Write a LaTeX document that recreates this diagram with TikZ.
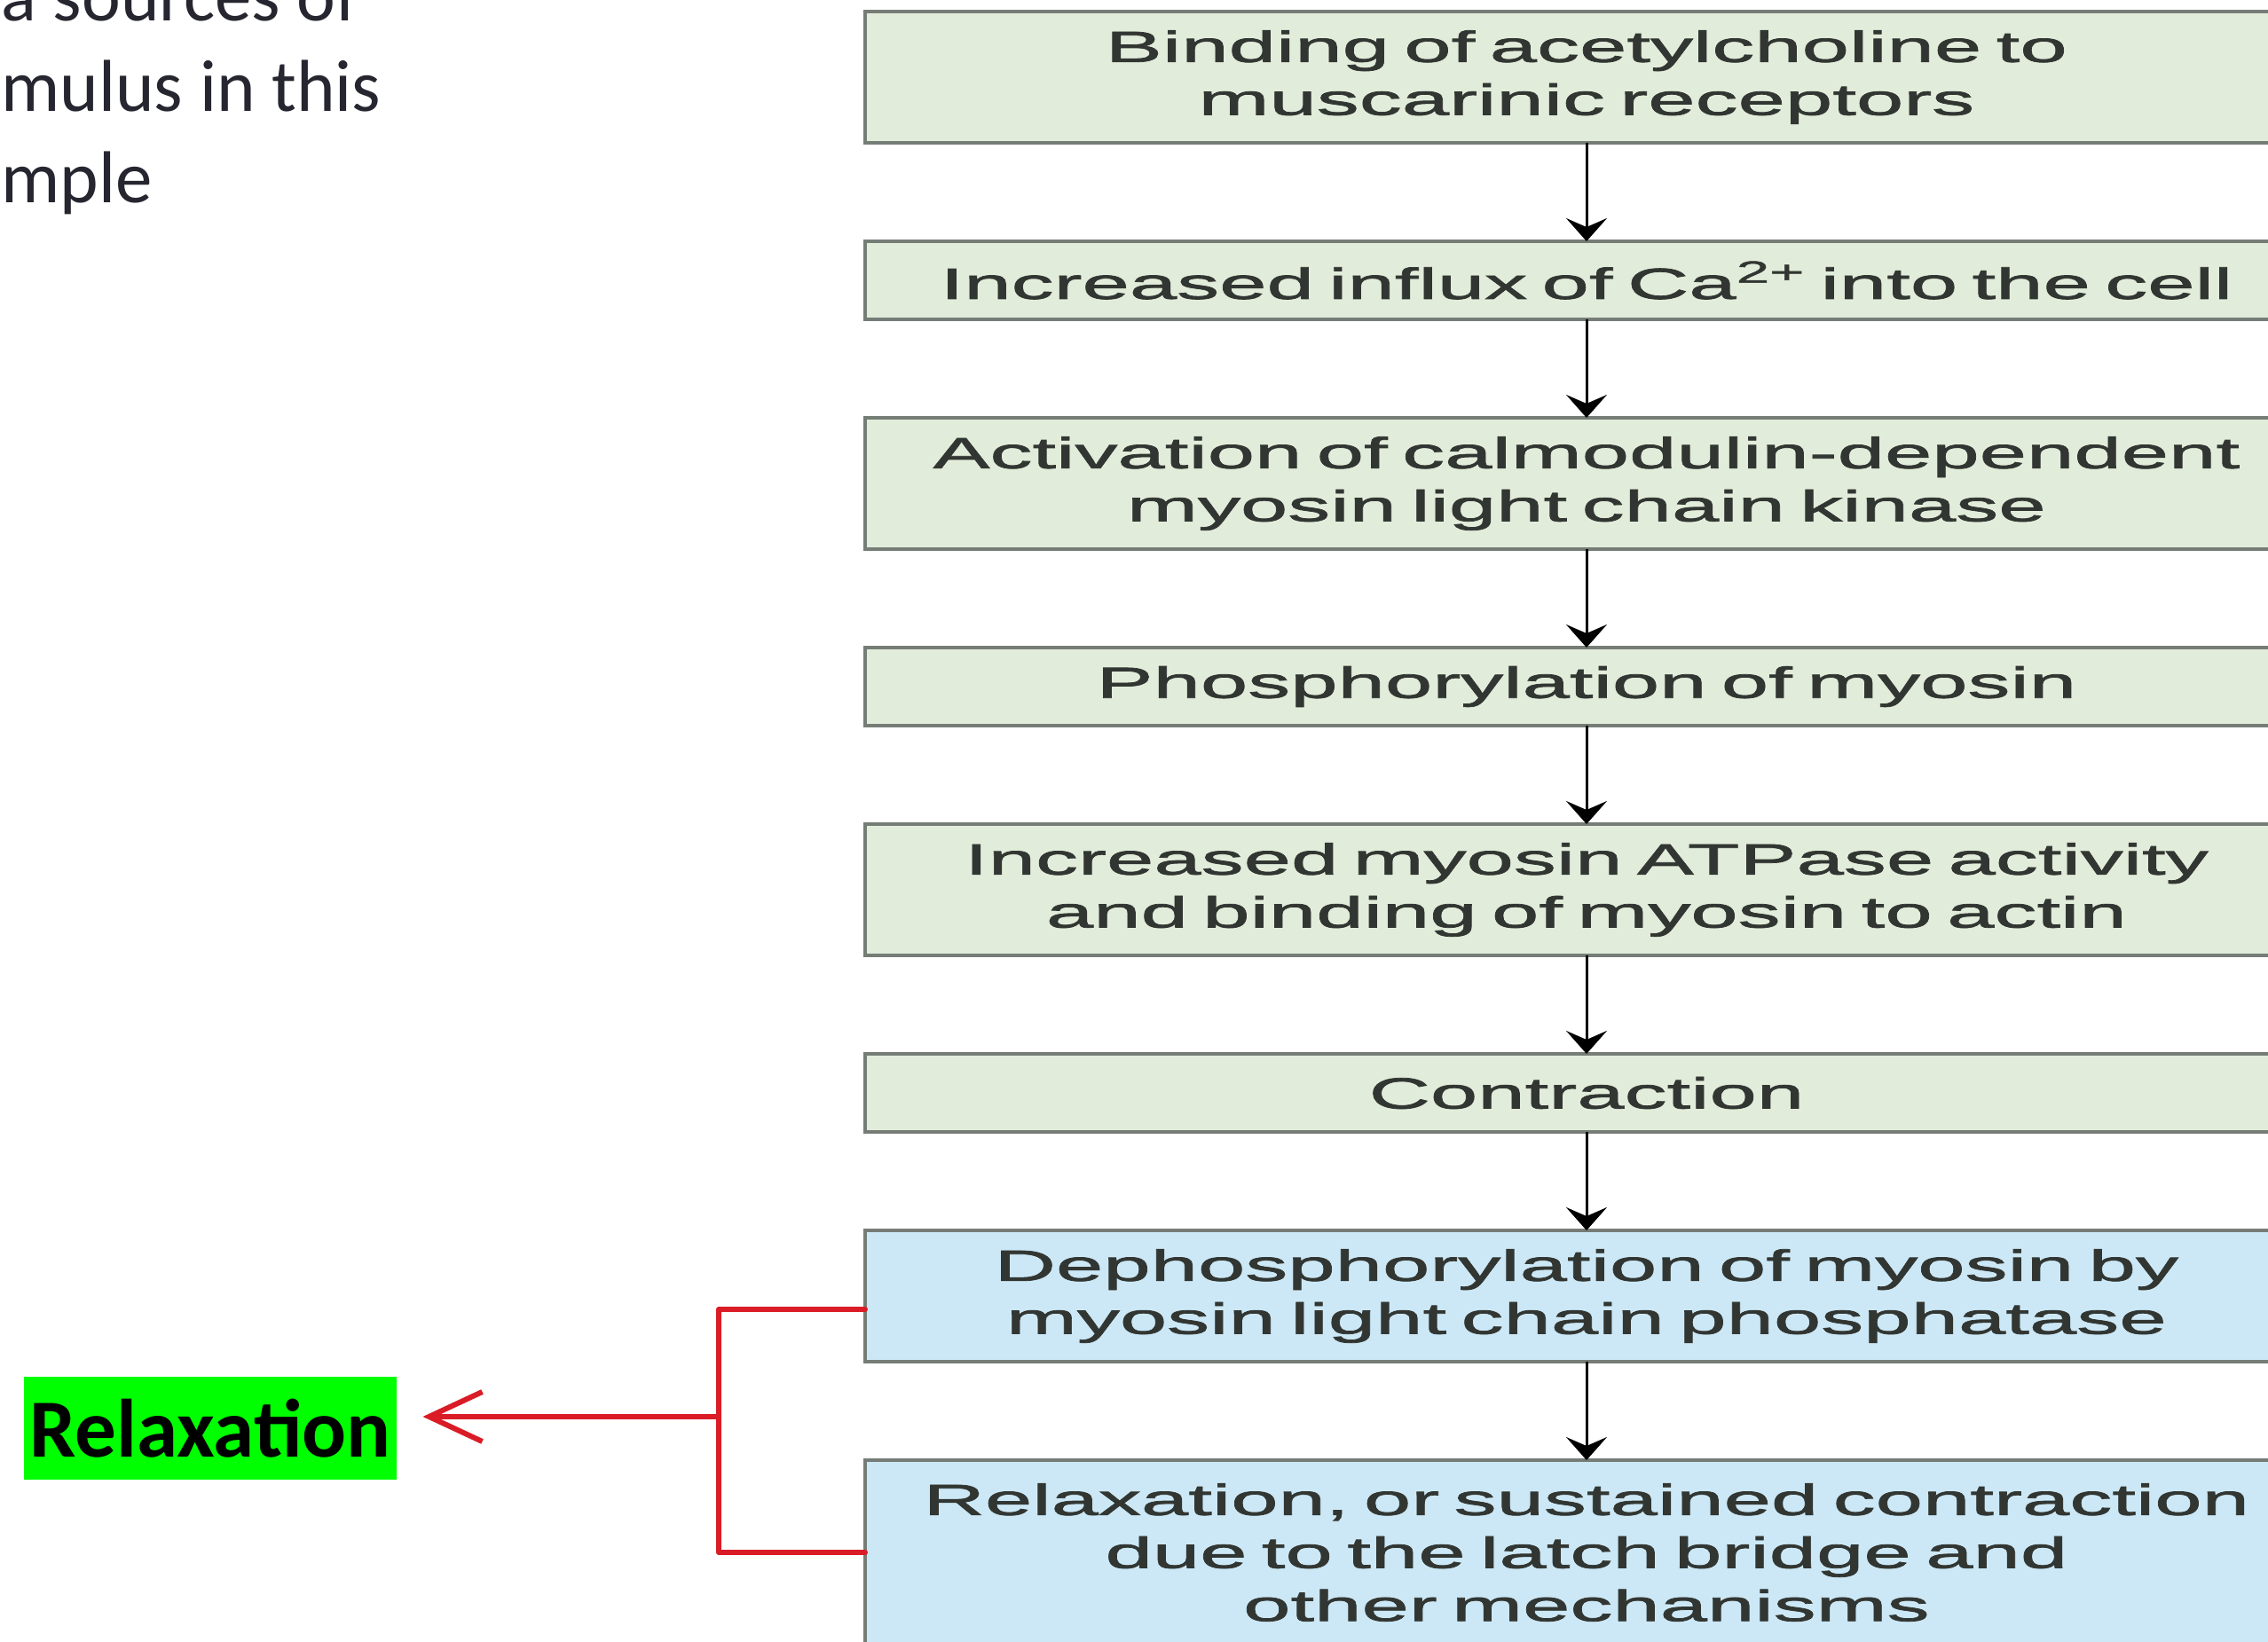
\documentclass[tikz,border=0pt]{standalone}
\usepackage{fontspec}
\setmainfont{Liberation Sans}
\newfontfamily\flowfont[FakeStretch=1.95,FakeBold=1.5]{Liberation Sans}
\newfontfamily\notefont{Carlito}
\usetikzlibrary{positioning,arrows.meta}
\definecolor{stepgreen}{RGB}{226,236,218}
\definecolor{stepblue}{RGB}{204,232,246}
\definecolor{stepedge}{RGB}{118,124,118}
\definecolor{steptext}{RGB}{50,54,50}
\definecolor{penred}{RGB}{218,28,38}
\definecolor{markgreen}{RGB}{0,255,0}
\definecolor{notetext}{RGB}{38,38,48}

\begin{document}
\begin{tikzpicture}[->,>={Stealth[length=2.6mm,width=4.6mm,inset=1mm]},line width=0.85pt,
                    node distance=1.11cm]
  \tikzstyle{stepbox}=[rectangle,draw=stepedge,line width=1.4pt,fill=stepgreen,text=steptext,
                       minimum width=16.26cm,text width=16cm,align=center,inner sep=0pt,
                       outer sep=0pt,font=\flowfont\fontsize{14}{17}\selectfont]
  \tikzstyle{onerow}=[stepbox,minimum height=0.88cm]
  \tikzstyle{tworow}=[stepbox,minimum height=1.48cm]
  \tikzstyle{late}=[fill=stepblue]
  \tikzstyle{note}=[anchor=base west,inner sep=0pt,text=notetext,
                    font=\notefont\fontsize{23.6}{28}\selectfont]
  \tikzstyle{relaxbox}=[rectangle,fill=markgreen,text=black,inner sep=0pt,
                        minimum width=4.2cm,minimum height=1.16cm,
                        font=\notefont\bfseries\fontsize{26.5}{30}\selectfont]
  \tikzstyle{bracket}=[-,draw=penred,line width=1.7pt,line cap=round,line join=round]

  \useasboundingbox (0,0) rectangle (25.56,-18.51);
  \clip (0,0) rectangle (25.56,-18.51);

  % left notes
  \node[note] (n1) at (0,-0.24) {a sources of};
  \node[note] (n2) at (0,-1.26) {mulus in this};
  \node[note] (n3) at (0,-2.29) {mple};

  % the steps
  \node[tworow] (b1) at (17.88,-0.87) {Binding of acetylcholine to\\muscarinic receptors};
  \node[onerow] (b2) [below=of b1] {Increased influx of Ca\textsuperscript{2+} into the cell};
  \node[tworow] (b3) [below=of b2] {Activation of calmodulin-dependent\\myosin light chain kinase};
  \node[onerow] (b4) [below=of b3] {Phosphorylation of myosin};
  \node[tworow] (b5) [below=of b4] {Increased myosin ATPase activity\\and binding of myosin to actin};
  \node[onerow] (b6) [below=of b5] {Contraction};
  \node[tworow,late] (b7) [below=of b6] {Dephosphorylation of myosin by\\myosin light chain phosphatase};
  \node[stepbox,late,minimum height=2.08cm] (b8) [below=of b7]
       {Relaxation, or sustained contraction\\due to the latch bridge and\\other mechanisms};

  \path (b1) edge (b2)
        (b2) edge (b3)
        (b3) edge (b4)
        (b4) edge (b5)
        (b5) edge (b6)
        (b6) edge (b7)
        (b7) edge (b8);

  % red mark
  \node[relaxbox] (rel) at (2.37,-16.10) {Relaxation};
  \coordinate (kt) at (8.10,-14.76);
  \coordinate (kb) at (8.10,-17.50);
  \coordinate (km) at (8.10,-15.97);
  \draw[bracket] (kt -| b7.west) -- (kt) -- (kb) -- (kb -| b8.west);
  \draw[bracket,-{Straight Barb[length=6mm,width=5.6mm]},shorten >=0.28cm] (km) -- (km -| rel.east);
\end{tikzpicture}
\end{document}
